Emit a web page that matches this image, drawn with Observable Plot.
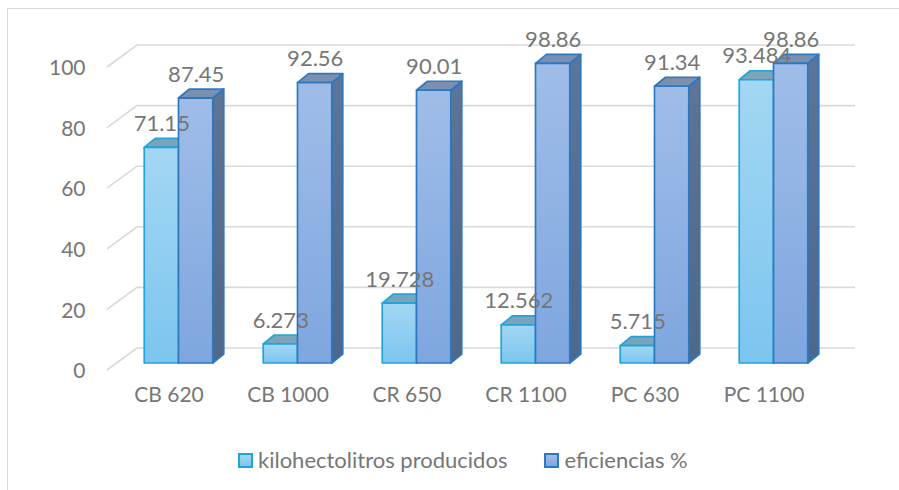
<!DOCTYPE html>
<html>
<head>
<meta charset="utf-8">
<script src="https://cdn.jsdelivr.net/npm/d3@7"></script>
<script src="https://cdn.jsdelivr.net/npm/@observablehq/plot@0.6"></script>
<style>
  html, body { margin: 0; padding: 0; background: #fff; }
  body { width: 899px; height: 490px; overflow: hidden; position: relative; font-family: Lato, "Open Sans", sans-serif; }
  #frame { position: absolute; left: 7px; top: 8px; width: 1000px; height: 600px; border: 1.5px solid #d9d9d9; box-sizing: border-box; }
  #chart { position: absolute; left: 0; top: 0; }
  #legend { position: absolute; left: 238px; top: 446px; display: flex; align-items: center; font-size: 22px; color: #767676; line-height: 28px; }
  #legend .item { display: flex; align-items: center; }
  #legend .sw { width: 11px; height: 11px; box-sizing: content-box; margin-right: 5px; }
</style>
</head>
<body>
<div id="frame"></div>
<div id="chart"></div>
<div id="legend"></div>
<script>
// Categories, series and axis ticks
const categories = ["CB 620", "CB 1000", "CR 650", "CR 1100", "PC 630", "PC 1100"];
const kilohectolitros = [71.15, 6.273, 19.728, 12.562, 5.715, 93.484];
const eficiencias = [87.45, 92.56, 90.01, 98.86, 91.34, 98.86];
const seriesNames = ["kilohectolitros producidos", "eficiencias %"];
const yTicks = [0, 20, 40, 60, 80, 100];

// Long table built from the arrays above
const rows = categories.flatMap((c, i) => [
  {category: c, series: 0, value: kilohectolitros[i]},
  {category: c, series: 1, value: eficiencias[i]}
]);

// Pseudo-3D geometry (pixel offsets toward the back of the box)
const wall = {dx: 30, dy: -22};   // back wall relative to floor front edge
const place = {dx: 10, dy: -7};   // bars stand part-way into the floor
const depth = {dx: 11, dy: -9};   // depth of each bar
const barFrac = 0.288;            // bar width as fraction of a category band

const styles = [
  {top: "#a3d7f3", bottom: "#7cc5ef", stroke: "#1fa4dc", cap: "#79a4bb", side: "#5f8fa8", side2: "#557f96"},
  {top: "#a0bde8", bottom: "#7ea6df", stroke: "#2e78c2", cap: "#7a90b0", side: "#5d7596", side2: "#4e688a"}
];
const textColor = "#767676";

function walls(index, {x, y}, values, dims) {
  const g = d3.create("svg:g").attr("fill", "none").attr("stroke", "#d9d9d9").attr("stroke-width", 1.6);
  const x0 = dims.marginLeft, x1 = dims.width - dims.marginRight;
  for (const t of yTicks) {
    const yf = y(t);
    g.append("path").attr("d", `M${x0},${yf}L${x0 + wall.dx},${yf + wall.dy}H${x1 + wall.dx}`);
  }
  return g.node();
}

function cuboids(index, {x, y}) {
  const step = x(categories[1]) - x(categories[0]);
  const bw = step * barFrac;
  const g = d3.create("svg:g").attr("stroke-width", 1.7).attr("stroke-linejoin", "round");
  const defs = g.append("defs");
  styles.forEach((s, k) => {
    const fg = defs.append("linearGradient").attr("id", `front-${k}`).attr("x1", 0).attr("x2", 0).attr("y1", 0).attr("y2", 1);
    fg.append("stop").attr("offset", 0).attr("stop-color", s.top);
    fg.append("stop").attr("offset", 1).attr("stop-color", s.bottom);
    const sg = defs.append("linearGradient").attr("id", `side-${k}`).attr("x1", 0).attr("x2", 0).attr("y1", 0).attr("y2", 1);
    sg.append("stop").attr("offset", 0).attr("stop-color", s.side);
    sg.append("stop").attr("offset", 1).attr("stop-color", s.side2);
  });
  for (const d of rows) {
    const s = styles[d.series];
    const left = x(d.category) + step / 2 - bw + d.series * bw + place.dx;
    const right = left + bw;
    const bottom = y(0) + place.dy;
    const top = y(d.value) + place.dy;
    const bar = g.append("g").attr("stroke", s.stroke);
    bar.append("path")
      .attr("fill", `url(#side-${d.series})`)
      .attr("d", `M${right},${top}L${right + depth.dx},${top + depth.dy}L${right + depth.dx},${bottom + depth.dy}L${right},${bottom}Z`);
    bar.append("path")
      .attr("fill", s.cap)
      .attr("d", `M${left},${top}L${left + depth.dx},${top + depth.dy}L${right + depth.dx},${top + depth.dy}L${right},${top}Z`);
    bar.append("rect")
      .attr("fill", `url(#front-${d.series})`)
      .attr("x", left).attr("y", top)
      .attr("width", bw).attr("height", bottom - top);
  }
  return g.node();
}

const W = 899, H = 430;
const mL = 107, mR = 74;
const bandW = (W - mL - mR) / categories.length;
const bw = bandW * barFrac;

const plot = Plot.plot({
  width: W,
  height: H,
  marginLeft: mL,
  marginRight: mR,
  marginTop: 67,
  marginBottom: 60,
  style: {fontFamily: "Lato, 'Open Sans', sans-serif", fontSize: "21px", color: textColor, background: "transparent", overflow: "visible"},
  x: {type: "band", domain: categories, padding: 0, axis: null},
  y: {domain: [0, 100], axis: null},
  marks: [
    walls,
    Plot.text(yTicks, {y: d => d, frameAnchor: "left", dx: -22, dy: 1, textAnchor: "end", text: d => String(d), fill: textColor, fontSize: 21}),
    Plot.text(categories, {x: d => d, frameAnchor: "bottom", dy: 31, text: d => d, fill: textColor, fontSize: 21}),
    cuboids,
    Plot.text(rows.filter(d => d.series === 0), {
      x: "category", y: "value", text: d => String(d.value),
      dx: place.dx - bw / 2, dy: place.dy - 24, fill: textColor, fontSize: 22
    }),
    Plot.text(rows.filter(d => d.series === 1), {
      x: "category", y: "value", text: d => String(d.value),
      dx: place.dx + bw / 2, dy: place.dy - 24, fill: textColor, fontSize: 22
    })
  ]
});
document.getElementById("chart").append(plot);

// Legend below the chart
const legend = d3.select("#legend");
seriesNames.forEach((name, k) => {
  const s = styles[k];
  const item = legend.append("div").attr("class", "item").style("margin-right", k === 0 ? "37px" : "0");
  item.append("div").attr("class", "sw")
    .style("background", `linear-gradient(${s.top}, ${s.bottom})`)
    .style("border", `2px solid ${s.stroke}`);
  item.append("span").text(name);
});
</script>
</body>
</html>
